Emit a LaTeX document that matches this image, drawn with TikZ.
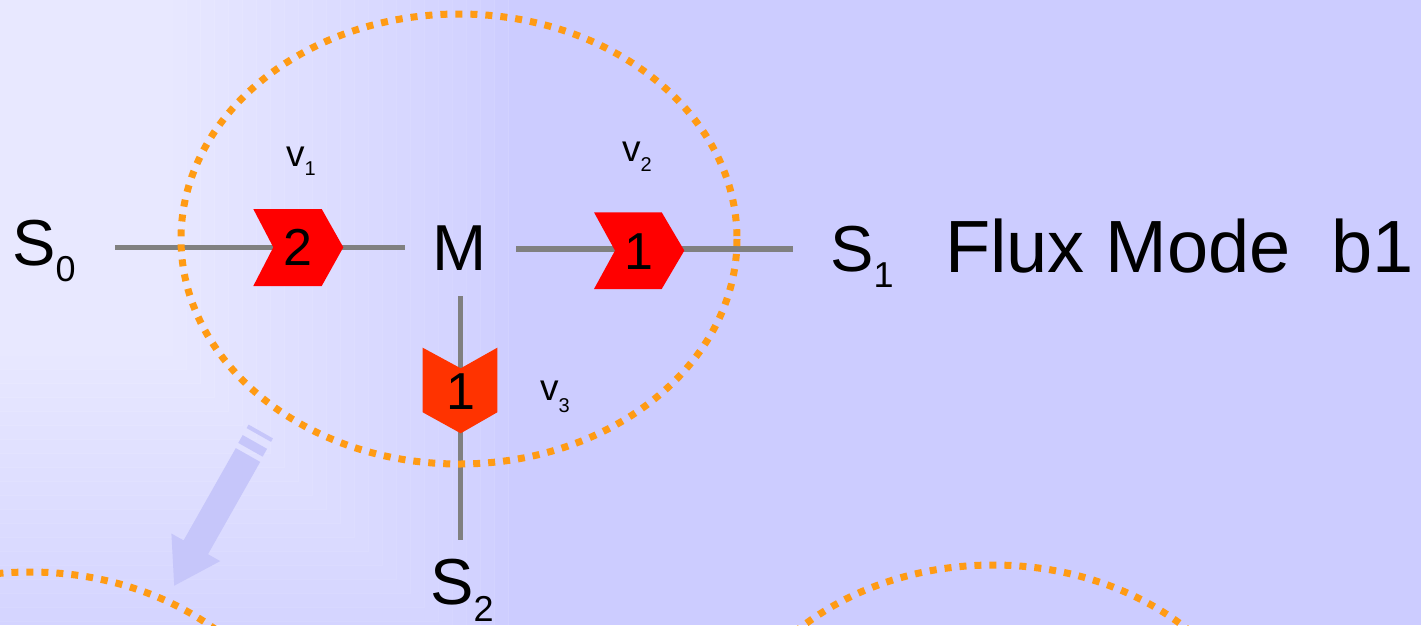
\documentclass[tikz,border=0pt]{standalone}
\usepackage{fontspec}
\setmainfont{Liberation Sans}
\definecolor{bgblue}{RGB}{204,204,255}
\definecolor{linegray}{RGB}{128,128,128}
\definecolor{ringorange}{RGB}{255,155,20}
\definecolor{chevred}{RGB}{255,0,0}
\definecolor{chevorange}{RGB}{255,51,0}
\definecolor{ghost}{RGB}{198,198,250}
\begin{document}
\begin{tikzpicture}[x=1pt,y=-1pt,
  flow/.style={draw=linegray,line width=5.5pt},
  ring/.style={draw=ringorange,line width=7pt,dash pattern=on 7pt off 8pt},
  lbl/.style={inner sep=0pt,anchor=base west,font=\fontsize{65}{65}\selectfont},
  vlbl/.style={inner sep=0pt,anchor=base west,font=\fontsize{37}{37}\selectfont},
  num/.style={inner sep=0pt,anchor=base,font=\fontsize{52}{52}\selectfont},
  shade/.style={fill=white,fill opacity=0.042,draw=white,draw opacity=0.12,line width=1pt}]
\useasboundingbox (0,0) rectangle (1421,625);
\clip (0,0) rectangle (1421,625);
% background
\fill[bgblue] (0,0) rectangle (1421,625);
\foreach \i in {0,...,36} {
  \path[shade] (-2,-2) rectangle ({4+14*\i},{187+14*\i});
}
% faded block arrow
\fill[ghost] (260.2,461.9) -- (208.0,554.2) -- (220.2,561.1) -- (174.2,585.7)
  -- (171.4,533.5) -- (183.6,540.4) -- (235.8,448.1) -- cycle;
\fill[ghost] (267.07,448.82) -- (262.64,456.66) -- (238.26,442.88) -- (242.69,435.04) -- cycle;
\fill[ghost] (272.97,438.37) -- (271.01,441.86) -- (246.63,428.08) -- (248.59,424.59) -- cycle;
% connector end points
\coordinate (a1) at (115,247.5);
\coordinate (a2) at (405,247.5);
\coordinate (b1) at (516,249);
\coordinate (b2) at (793,249);
\coordinate (c1) at (460.7,296);
\coordinate (c2) at (460.7,540);
\draw[flow] (a1) -- (a2);
\draw[flow] (b1) -- (b2);
\draw[flow] (c1) -- (c2);
% chevrons
\fill[chevred] (253.3,209) -- (321.7,209) -- (343.3,247.3) -- (321.7,286) -- (253.3,286) -- (273.3,247.3) -- cycle;
\fill[chevred] (594,212.3) -- (661.7,212.3) -- (684.3,250.6) -- (661.7,289) -- (594,289) -- (615,250.6) -- cycle;
\fill[chevorange] (422.7,347.7) -- (460.7,368.3) -- (497.3,347.7) -- (497.3,412.3) -- (460.7,433.3) -- (422.7,412.3) -- cycle;
\node[num] (n1) at (297.5,265) {2};
\node[num] (n2) at (639,269.3) {1};
\node[num] (n3) at (461,409.3) {1};
% dotted rings
\draw[ring] (459,239) ellipse [x radius=278, y radius=225];
\draw[ring] (30,797) ellipse [x radius=278, y radius=225];
\draw[ring] (993,790) ellipse [x radius=278, y radius=225];
% labels
\node[lbl] (S0) at (12,265) {S\raisebox{-16pt}{\fontsize{36}{36}\selectfont 0}};
\node[lbl,anchor=base] (M) at (460,270.7) {M};
\node[lbl] (S1) at (830,271) {S\raisebox{-16pt}{\fontsize{36}{36}\selectfont 1}};
\node[inner sep=0pt,anchor=base west,font=\fontsize{74}{74}\selectfont] (title) at (945,272) {Flux Mode\ \ b1};
\node[lbl] (S2) at (430,604) {S\raisebox{-17pt}{\fontsize{36}{36}\selectfont 2}};
\node[vlbl] (v1) at (286,166) {v\raisebox{-9pt}{\fontsize{20}{20}\selectfont 1}};
\node[vlbl] (v2) at (622,161.7) {v\raisebox{-10pt}{\fontsize{20}{20}\selectfont 2}};
\node[vlbl] (v3) at (540,400) {v\raisebox{-12pt}{\fontsize{20}{20}\selectfont 3}};
\end{tikzpicture}
\end{document}
